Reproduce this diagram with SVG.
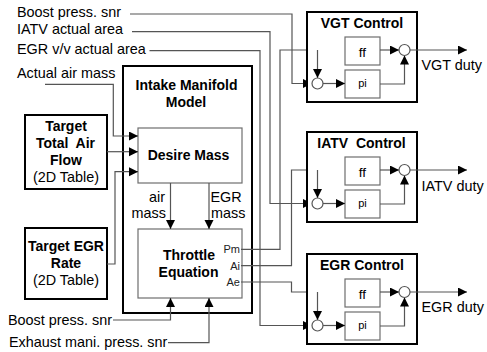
<svg xmlns="http://www.w3.org/2000/svg" width="487" height="352" viewBox="0 0 487 352">
<defs>
<marker id="ah" markerUnits="userSpaceOnUse" markerWidth="10" markerHeight="10" refX="9" refY="4.5" orient="auto">
<path d="M0,0 L9,4.5 L0,9 z" fill="#000"/>
</marker>
<style>
text{font-family:"Liberation Sans",Arial,sans-serif;fill:#000;}
.b{font-weight:bold;font-size:14px;}
.n{font-size:14.4px;}
.s{font-size:11px;fill:#222;}
.thick{fill:#fff;stroke:#000;stroke-width:2;}
.thin{fill:#fff;stroke:#6e6e6e;stroke-width:1.2;}
.c{fill:none;stroke:#555;stroke-width:1.2;}
.a{marker-end:url(#ah);}
.sum{fill:#fff;stroke:#555;stroke-width:1.2;}
</style>
</defs>
<rect width="487" height="352" fill="#fff"/>

<!-- input labels -->
<g id="labels">
<text class="n" x="17" y="16.5">Boost press. snr</text>
<text class="n" x="17" y="33.5">IATV actual area</text>
<text class="n" x="17" y="54">EGR v/v actual area</text>
<text class="n" x="17" y="77.5">Actual air mass</text>
<text class="n" x="8" y="325">Boost press. snr</text>
<text class="n" x="9" y="346.5">Exhaust mani. press. snr</text>
</g>

<g id="intake-manifold">
<rect class="thick" x="123" y="66" width="129" height="247"/>
<text class="b" x="186.5" y="90" text-anchor="middle">Intake Manifold</text>
<text class="b" x="186" y="107" text-anchor="middle">Model</text>
</g>

<g id="target-air">
<rect class="thick" x="25" y="115" width="82" height="74"/>
<text class="b" x="66" y="131" text-anchor="middle">Target</text>
<text class="b" x="65.5" y="148" text-anchor="middle" xml:space="preserve">Total  Air</text>
<text class="b" x="66" y="165" text-anchor="middle">Flow</text>
<text class="n" x="66" y="182" text-anchor="middle">(2D Table)</text>
</g>

<g id="target-egr">
<rect class="thick" x="25" y="228" width="82" height="71"/>
<text class="b" x="66" y="250.5" text-anchor="middle">Target EGR</text>
<text class="b" x="66" y="267.5" text-anchor="middle">Rate</text>
<text class="n" x="66" y="285" text-anchor="middle">(2D Table)</text>
</g>

<g id="desire-mass">
<rect class="thin" x="138" y="128" width="104" height="55"/>
<text class="b" x="188.5" y="160" text-anchor="middle">Desire Mass</text>
</g>

<g id="throttle-equation">
<rect class="thin" x="138" y="229" width="104" height="69"/>
<text class="b" x="189" y="260" text-anchor="middle">Throttle</text>
<text class="b" x="188.5" y="276.5" text-anchor="middle">Equation</text>
<text class="s" x="240" y="253" text-anchor="end">Pm</text>
<text class="s" x="240" y="269.5" text-anchor="end">Ai</text>
<text class="s" x="240" y="286" text-anchor="end">Ae</text>
</g>

<g id="connectors">
<path class="c a" d="M130,14 H292 V83.5 H312"/>
<path class="c a" d="M132,31.7 H270 V203.5 H312"/>
<path class="c a" d="M149.5,50.7 H260 V325.5 H312"/>
<path class="c a" d="M241,249.3 H280 V50 H345"/>
<path class="c a" d="M241,265.7 H291.5 V170 H345"/>
<path class="c a" d="M241,282 H291.5 V292 H345"/>
<path class="c a" d="M45,84.3 H113.3 V136 H138"/>
<path class="c a" d="M107,151.7 H138"/>
<path class="c a" d="M107,264 H115 V171.7 H138"/>
<path class="c a" d="M170.5,183 V229"/>
<path class="c a" d="M209,183 V229"/>
<path class="c a" d="M113,320 H170.5 V298"/>
<path class="c a" d="M168,342.7 H209 V298"/>
<text class="n" x="165" y="201.5" text-anchor="end">air</text>
<text class="n" x="166" y="218" text-anchor="end">mass</text>
<text class="n" x="210.5" y="201.5">EGR</text>
<text class="n" x="211" y="218">mass</text>
</g>

<g id="vgt-control">
<rect class="thick" x="307" y="12" width="110" height="90"/>
<text class="b" x="362" y="27.5" text-anchor="middle">VGT Control</text>
<rect class="thin" x="345" y="37" width="35" height="28"/>
<text x="362.5" y="56.5" text-anchor="middle" font-size="13.5">ff</text>
<rect class="thin" x="345" y="70" width="35" height="28"/>
<text x="362.5" y="87" text-anchor="middle" font-size="11">pi</text>
<path class="c a" d="M317.5,50 V78"/>
<path class="c a" d="M323,83.5 H345"/>
<path class="c a" d="M380,50 H399"/>
<path class="c a" d="M380,84 H404.5 V55.5"/>
<path class="c a" d="M410,50 H467"/>
<circle class="sum" cx="317.5" cy="83.5" r="5.5"/>
<circle class="sum" cx="404.5" cy="50" r="5.5"/>
<text class="n" x="421.5" y="70">VGT duty</text>
</g>

<g id="iatv-control" transform="translate(0,120)">
<rect class="thick" x="307" y="12" width="110" height="90"/>
<text class="b" x="361.5" y="27.5" text-anchor="middle" xml:space="preserve">IATV  Control</text>
<rect class="thin" x="345" y="37" width="35" height="28"/>
<text x="362.5" y="56.5" text-anchor="middle" font-size="13.5">ff</text>
<rect class="thin" x="345" y="70" width="35" height="28"/>
<text x="362.5" y="87" text-anchor="middle" font-size="11">pi</text>
<path class="c a" d="M317.5,50 V78"/>
<path class="c a" d="M323,83.5 H345"/>
<path class="c a" d="M380,50 H399"/>
<path class="c a" d="M380,84 H404.5 V55.5"/>
<path class="c a" d="M410,50 H467"/>
<circle class="sum" cx="317.5" cy="83.5" r="5.5"/>
<circle class="sum" cx="404.5" cy="50" r="5.5"/>
<text class="n" x="421.5" y="71">IATV duty</text>
</g>

<g id="egr-control" transform="translate(0,242)">
<rect class="thick" x="307" y="12" width="110" height="90"/>
<text class="b" x="362" y="27.5" text-anchor="middle">EGR Control</text>
<rect class="thin" x="345" y="37" width="35" height="28"/>
<text x="362.5" y="56.5" text-anchor="middle" font-size="13.5">ff</text>
<rect class="thin" x="345" y="70" width="35" height="28"/>
<text x="362.5" y="87" text-anchor="middle" font-size="11">pi</text>
<path class="c a" d="M317.5,50 V78"/>
<path class="c a" d="M323,83.5 H345"/>
<path class="c a" d="M380,50 H399"/>
<path class="c a" d="M380,84 H404.5 V55.5"/>
<path class="c a" d="M410,50 H467"/>
<circle class="sum" cx="317.5" cy="83.5" r="5.5"/>
<circle class="sum" cx="404.5" cy="50" r="5.5"/>
<text class="n" x="421.5" y="70">EGR duty</text>
</g>
</svg>
